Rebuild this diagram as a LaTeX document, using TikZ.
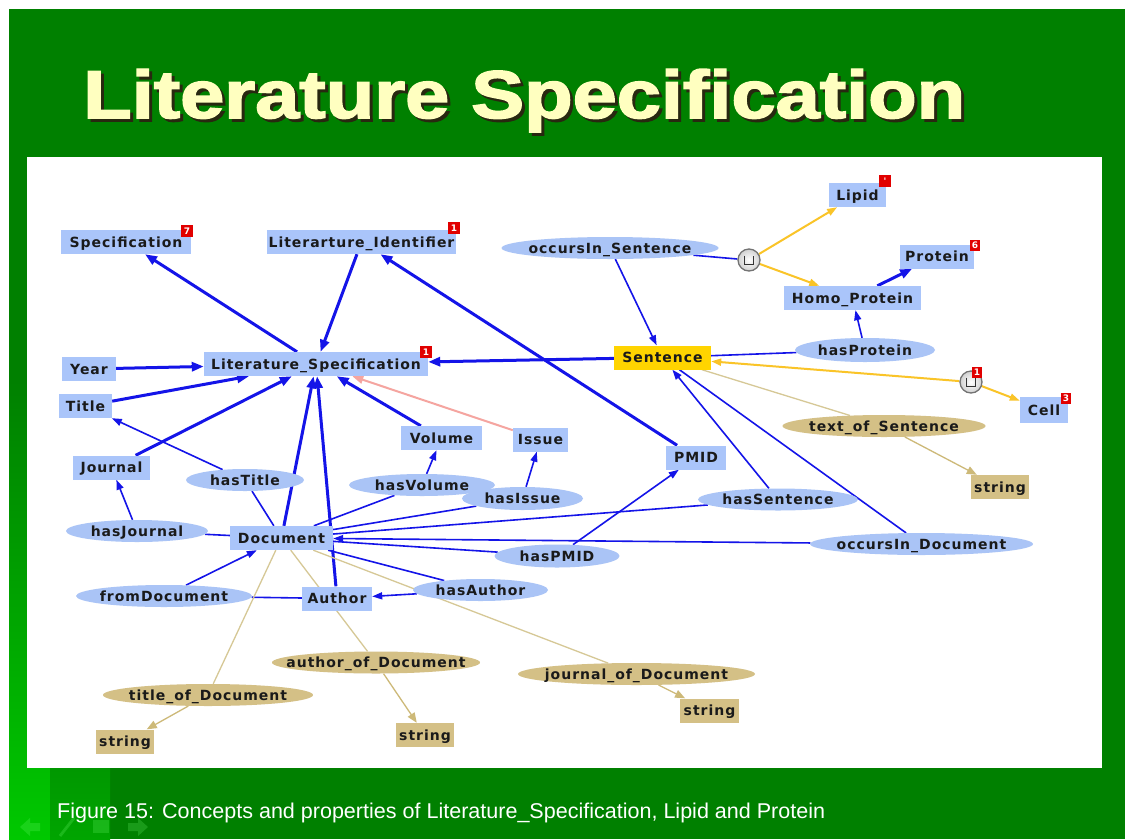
\documentclass[tikz,border=0pt]{standalone}
\usepackage{fontspec}
\setmainfont{Liberation Sans}
\newfontfamily\titlefont[FakeBold=2.2]{Liberation Sans}
\newfontfamily\lblfont[LetterSpace=7]{DejaVu Sans}
\newfontfamily\badgefont{DejaVu Sans}
\usetikzlibrary{arrows.meta,shapes.geometric}

\definecolor{slidegreen}{RGB}{0,128,0}
\definecolor{brightgreen}{RGB}{0,200,0}
\definecolor{midgreen}{RGB}{0,165,0}
\definecolor{titlecream}{RGB}{255,255,192}
\definecolor{titleshade}{RGB}{40,40,16}
\definecolor{boxblue}{RGB}{170,197,250}
\definecolor{propblue}{RGB}{170,196,246}
\definecolor{tanfill}{RGB}{212,192,134}
\definecolor{tanline}{RGB}{214,200,150}
\definecolor{tanarrow}{RGB}{205,185,120}
\definecolor{lineblue}{RGB}{20,20,232}
\definecolor{unionyellow}{RGB}{250,196,40}
\definecolor{pinkline}{RGB}{245,165,160}
\definecolor{sentgold}{RGB}{255,212,0}
\definecolor{badgered}{RGB}{225,0,0}
\definecolor{labeltxt}{RGB}{26,26,26}

\pgfdeclarelayer{backdrop}
\pgfdeclarelayer{links}
\pgfsetlayers{backdrop,links,main}

% label that does not widen its node
\newcommand\nl[1]{\makebox[0pt]{\raisebox{-5pt}[0pt][0pt]{#1}}}

\begin{document}
\begin{tikzpicture}[x=1pt,y=-1pt,
  lbl/.style={font=\lblfont\bfseries\fontsize{14}{14}\selectfont, text=labeltxt},
  cls/.style={lbl, rectangle, fill=boxblue, inner sep=0pt, minimum height=24pt},
  sentbox/.style={cls, fill=sentgold},
  prop/.style={lbl, ellipse, fill=propblue, inner sep=0pt, minimum height=22pt},
  dprop/.style={prop, fill=tanfill},
  dtype/.style={cls, fill=tanfill},
  badge/.style={rectangle, fill=badgered, text=white, inner sep=0pt,
    minimum width=12pt, minimum height=12pt, font=\badgefont\bfseries\fontsize{9}{9}\selectfont},
  unionnode/.style={circle, draw=black!55, line width=1.3pt, inner color=white,
    outer color=black!18, minimum size=22pt, inner sep=0pt},
  isa/.style={draw=lineblue, line width=3pt, -{Triangle[length=12pt,width=9pt]}},
  pinkisa/.style={draw=pinkline, line width=2pt, -{Triangle[length=11pt,width=8pt]}},
  rel/.style={draw=lineblue, line width=1.6pt, -{Triangle[length=10pt,width=7pt]}},
  relline/.style={draw=lineblue, line width=1.6pt},
  uni/.style={draw=unionyellow, line width=2pt, -{Triangle[length=10pt,width=7pt]}},
  tanlink/.style={draw=tanline, line width=1.3pt},
  tanto/.style={draw=tanarrow, line width=1.3pt, -{Triangle[length=10pt,width=8pt]}},
  navicon/.style={fill=green!55!white, opacity=0.22}
]
\useasboundingbox (0,0) rectangle (1125,839);

% slide background and white panel
\begin{pgfonlayer}{backdrop}
  \fill[white] (0,0) rectangle (1125,839);
  \fill[slidegreen] (9,9) rectangle (1125,839);
  \shade[top color=slidegreen, bottom color=brightgreen] (9,380) rectangle (50,839);
  \shade[top color=slidegreen, bottom color=midgreen] (50,640) rectangle (110,839);
  \fill[white] (27,157) rectangle (1102,768);
\end{pgfonlayer}

% title with drop shadow
\node[anchor=base west, inner sep=0pt, text=titleshade] (titleshadow) at (86,121)
  {\resizebox{882pt}{49pt}{\titlefont\bfseries Literature Specification}};
\node[anchor=base west, inner sep=0pt, text=titlecream] (title) at (83,118)
  {\resizebox{882pt}{49pt}{\titlefont\bfseries Literature Specification}};

% caption
\node[anchor=base west, inner sep=0pt, text=white] (caption) at (57,818)
  {\resizebox{768pt}{15.5pt}{Figure 15: Concepts and properties of Literature\_Specification, Lipid and Protein}};

% navigation icons
\fill[navicon] (20,827) -- (30,818) -- (30,823) -- (40,823) -- (40,831) -- (30,831) -- (30,836) -- cycle;
\draw[navicon, draw=green!55!white, line width=3pt] (60,836) -- (74,818);
\fill[navicon] (93,820) rectangle (109,833);
\fill[navicon] (148,827) -- (138,818) -- (138,823) -- (128,823) -- (128,831) -- (138,831) -- (138,836) -- cycle;

% classes
\node[cls, minimum width=130pt] (spec) at (126,242) {\nl{Specification}};
\node[cls, minimum width=189pt] (litid) at (361.5,242) {\nl{Literarture\_Identifier}};
\node[cls, minimum width=224pt] (litspec) at (316,364) {\nl{Literature\_Specification}};
\node[cls, minimum width=54pt] (year) at (89,369) {\nl{Year}};
\node[cls, minimum width=53pt] (title) at (85.5,406) {\nl{Title}};
\node[cls, minimum width=77pt] (journal) at (111.5,467.5) {\nl{Journal}};
\node[cls, minimum width=81pt] (volume) at (441.5,438) {\nl{Volume}};
\node[cls, minimum width=55pt] (issue) at (540.5,439.5) {\nl{Issue}};
\node[cls, minimum width=60pt] (pmid) at (696,457.5) {\nl{PMID}};
\node[cls, minimum width=103pt] (document) at (281.5,538) {\nl{Document}};
\node[cls, minimum width=70pt] (author) at (337,598.5) {\nl{Author}};
\node[cls, minimum width=57pt] (lipid) at (857.5,195) {\nl{Lipid}};
\node[cls, minimum width=74pt] (protein) at (937,256.5) {\nl{Protein}};
\node[cls, minimum width=137pt] (homoprot) at (852.5,298) {\nl{Homo\_Protein}};
\node[sentbox, minimum width=97pt] (sentence) at (662.5,357.5) {\nl{Sentence}};
\node[cls, minimum width=48pt, minimum height=26pt] (cell) at (1044,410) {\nl{Cell}};

% datatypes
\node[dtype, minimum width=58pt] (string1) at (125,741.5) {\nl{string}};
\node[dtype, minimum width=58pt] (string2) at (425,735) {\nl{string}};
\node[dtype, minimum width=59pt] (string3) at (709.5,710.5) {\nl{string}};
\node[dtype, minimum width=58pt] (string4) at (1000,487) {\nl{string}};

% object properties
\node[prop, minimum width=217pt] (occs) at (610,248) {\nl{occursIn\_Sentence}};
\node[prop, minimum width=140pt, minimum height=24pt] (hasprot) at (865,350) {\nl{hasProtein}};
\node[prop, minimum width=160pt] (hassent) at (778,499.5) {\nl{hasSentence}};
\node[prop, minimum width=223pt] (occdoc) at (921.5,544) {\nl{occursIn\_Document}};
\node[prop, minimum width=125pt, minimum height=23pt] (haspmid) at (557,556) {\nl{hasPMID}};
\node[prop, minimum width=135pt] (hasauthor) at (480.5,590) {\nl{hasAuthor}};
\node[prop, minimum width=121pt, minimum height=23pt] (hasissue) at (522.5,498.5) {\nl{hasIssue}};
\node[prop, minimum width=146pt] (hasvol) at (422,485) {\nl{hasVolume}};
\node[prop, minimum width=118pt] (hastitle) at (245,480) {\nl{hasTitle}};
\node[prop, minimum width=142pt] (hasjour) at (137,531) {\nl{hasJournal}};
\node[prop, minimum width=176pt] (fromdoc) at (164,596) {\nl{fromDocument}};

% datatype properties
\node[dprop, minimum width=203pt] (textofs) at (884,426) {\nl{text\_of\_Sentence}};
\node[dprop, minimum width=208pt] (authof) at (376,662.5) {\nl{author\_of\_Document}};
\node[dprop, minimum width=210pt] (titleof) at (208,695) {\nl{title\_of\_Document}};
\node[dprop, minimum width=237pt] (journof) at (636.5,674) {\nl{journal\_of\_Document}};

% union operators
\node[unionnode] (u1) at (749,260) {};
\node[unionnode] (u2) at (971,382) {};
\draw[line width=1.7pt, black!80] ([shift={(-4.5,-4.5)}]u1.center) -- ++(0,9) -- ++(9,0) -- ++(0,-9);
\draw[line width=1.7pt, black!80] ([shift={(-4.5,-4.5)}]u2.center) -- ++(0,9) -- ++(9,0) -- ++(0,-9);

% count badges
\node[badge] (bspec) at (187,231) {7};
\node[badge] (blitid) at (454,228) {1};
\node[badge] (blitspec) at (426,352) {1};
\node[badge] (blipid) at (885,181) {'};
\node[badge, minimum width=10pt, minimum height=11pt] (bprot) at (975,245) {6};
\node[badge, minimum width=10pt, minimum height=11pt] (bu2) at (977,372) {1};
\node[badge, minimum width=10pt, minimum height=11pt] (bcell) at (1066,398) {3};

\begin{pgfonlayer}{links}
  % subclass links
  \draw[isa] (litspec) -- (spec);
  \draw[isa] (litid) -- (litspec);
  \draw[isa] (pmid) -- (litid);
  \draw[isa] (year) -- (litspec);
  \draw[isa] (title) -- (litspec);
  \draw[isa] (journal) -- (litspec);
  \draw[isa] (document) -- (litspec);
  \draw[isa] (author) -- (litspec);
  \draw[isa] (volume) -- (litspec);
  \draw[isa] (sentence) -- (litspec);
  \draw[isa] (homoprot) -- (protein);
  \draw[pinkisa] (issue) -- (litspec);

  % property ranges
  \draw[rel] (occs) -- (sentence);
  \draw[rel] (hasprot) -- (homoprot);
  \draw[rel] (hassent) -- (sentence);
  \draw[rel] (occdoc) -- (document);
  \draw[rel] (haspmid) -- (pmid);
  \draw[rel] (hasvol) -- (volume);
  \draw[rel] (hasissue) -- (issue);
  \draw[rel] (hastitle) -- (title);
  \draw[rel] (hasjour) -- (journal);
  \draw[rel] (fromdoc) -- (document);
  \draw[rel] (hasauthor) -- (author);

  % property domains
  \draw[relline] (occs) -- (u1);
  \draw[relline] (hasprot) -- (sentence);
  \draw[relline] (occdoc) -- (sentence);
  \draw[relline] (hassent) -- (document);
  \draw[relline] (haspmid) -- (document);
  \draw[relline] (hasissue) -- (document);
  \draw[relline] (hasvol) -- (document);
  \draw[relline] (hastitle) -- (document);
  \draw[relline] (hasjour) -- (document);
  \draw[relline] (fromdoc) -- (author);
  \draw[relline] (hasauthor) -- (document);

  % unions
  \draw[uni] (u1) -- (lipid);
  \draw[uni] (u1) -- (homoprot);
  \draw[uni] (u2) -- (sentence);
  \draw[uni] (u2) -- (cell);

  % datatype properties
  \draw[tanlink] (sentence) -- (textofs);
  \draw[tanlink] (document) -- (titleof);
  \draw[tanlink] (document) -- (authof);
  \draw[tanlink] (document) -- (journof);
  \draw[tanto] (textofs) -- (string4);
  \draw[tanto] (titleof) -- (string1);
  \draw[tanto] (authof) -- (string2);
  \draw[tanto] (journof) -- (string3);
\end{pgfonlayer}
\end{tikzpicture}
\end{document}
